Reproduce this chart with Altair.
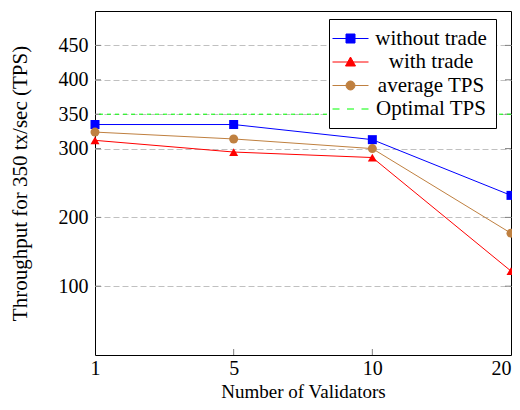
import altair as alt
import pandas as pd

validators = ["1", "5", "10", "20"]
without_trade = [335, 335, 313, 232]
with_trade = [312, 295, 287, 122]
average_tps = [324, 314, 300, 177]
optimal_tps = 350
y_ticks = [100, 200, 300, 350, 400, 450]
x_inner_ticks = ["5", "10"]

series_names = ["without trade", "with trade", "average TPS", "Optimal TPS"]
series_colors = ["#0000ff", "#ff0000", "#bf8040", "#00ff00"]
series_markers = ["square", "triangle-up", "circle"]

rows = []
for name, vals in zip(series_names[:3], [without_trade, with_trade, average_tps]):
    for v, t in zip(validators, vals):
        rows.append({"validators": v, "tps": t, "series": name})
df = pd.DataFrame(rows)

FONT = "Liberation Serif"
color_scale = alt.Scale(domain=series_names, range=series_colors)

x_enc = alt.X(
    "validators:O",
    sort=validators,
    scale=alt.Scale(type="point", padding=0),
    axis=alt.Axis(title="Number of Validators", labelAngle=0, tickSize=0,
                  labelAlign=alt.ExprRef("datum.value == '20' ? 'right' : 'center'"),
                  labelPadding=3, titleBaseline="alphabetic", titleY=42,
                  titleFontSize=19, domain=False, grid=False),
)
y_enc = alt.Y(
    "tps:Q",
    scale=alt.Scale(domain=[0, 500], nice=False, zero=False),
    axis=alt.Axis(title="Throughput for 350 tx/sec (TPS)", values=y_ticks, tickSize=0,
                  labelPadding=7, titlePadding=28, domain=False, grid=True,
                  gridColor="#c0c0c0", gridDash=[6, 3], gridWidth=1),
)

shape_expr = (
    "datum.value === 'without trade' ? 'M-1.8,0H1.8M-0.45,-0.45H0.45V0.45H-0.45Z' : "
    "datum.value === 'with trade' ? 'M-1.8,0H1.8M0,-0.5L0.5,0.4L-0.5,0.4Z' : "
    "datum.value === 'average TPS' ? 'M-1.8,0H1.8M0.45,0A0.45,0.45 0 1,1 -0.45,0A0.45,0.45 0 1,1 0.45,0Z' : "
    "'M-1.8,0H-1.1M-0.35,0H0.35M1.1,0H1.8'"
)
color_expr = "scale('color', datum.value)"

legend = alt.Legend(
    title=None,
    orient="none",
    legendX=234,
    legendY=8,
    labelFont=FONT,
    labelFontSize=21,
    labelColor="black",
    labelAlign="center",
    labelOffset=70,
    padding=9,
    rowPadding=1.5,
    symbolOffset=2,
    symbolSize=400,
    symbolType=alt.ExprRef(shape_expr),
    symbolStrokeColor=alt.ExprRef(color_expr),
    symbolFillColor=alt.ExprRef(color_expr),
    symbolStrokeWidth=1,
    symbolOpacity=1,
    strokeColor="black",
    fillColor="white",
    cornerRadius=0,
)

color_enc = alt.Color("series:N", scale=color_scale, legend=legend)

tick_df = pd.DataFrame({"tps": y_ticks})
left_ticks = alt.Chart(tick_df).mark_rule(color="#808080", strokeWidth=1).encode(
    y=y_enc, x=alt.value(0), x2=alt.value(6)
)
right_ticks = alt.Chart(tick_df).mark_rule(color="#808080", strokeWidth=1).encode(
    y=y_enc, x=alt.value(410), x2=alt.value(416)
)
xtick_df = pd.DataFrame({"validators": x_inner_ticks})
bottom_ticks = alt.Chart(xtick_df).mark_rule(color="#808080", strokeWidth=1).encode(
    x=x_enc, y=alt.value(344), y2=alt.value(338)
)

opt_df = pd.DataFrame({"series": ["Optimal TPS"], "tps": [optimal_tps]})
opt_rule = alt.Chart(opt_df).mark_rule(strokeDash=[4, 4], strokeWidth=1).encode(
    y=y_enc, color=color_enc
)

lines = alt.Chart(df).mark_line(strokeWidth=1).encode(
    x=x_enc, y=y_enc, color=color_enc
)

point_layers = [
    alt.Chart(df).transform_filter(alt.datum.series == name)
    .mark_point(shape=marker, filled=True, size=81, opacity=1)
    .encode(x=x_enc, y=y_enc, color=color_enc)
    for name, marker in zip(series_names[:3], series_markers)
]

chart = alt.layer(left_ticks, right_ticks, bottom_ticks, opt_rule, lines, *point_layers).properties(
    width=416,
    height=344,
    background="white",
    autosize=alt.AutoSizeParams(type="none"),
    padding={"left": 87, "top": 3, "right": 1, "bottom": 47},
).configure_view(
    stroke="black", strokeWidth=1
).configure_axis(
    labelFont=FONT, labelFontSize=20, labelColor="black",
    titleFont=FONT, titleFontSize=21, titleColor="black", titleFontWeight="normal",
)

chart.save("out.html", embed_options={"renderer": "svg", "actions": False})
